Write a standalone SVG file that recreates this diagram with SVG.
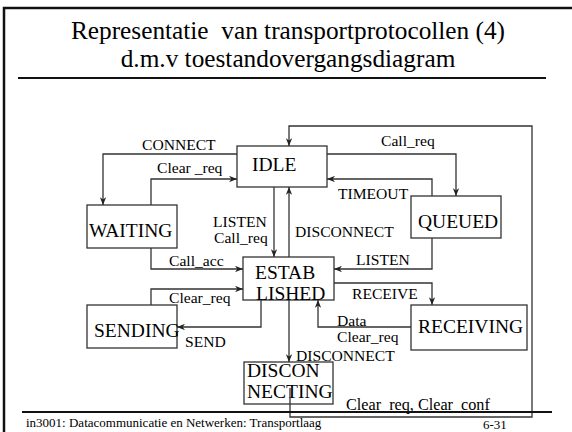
<svg xmlns="http://www.w3.org/2000/svg" width="572" height="432" viewBox="0 0 572 432">
  <style>
    .frame { fill: none; stroke: #111; stroke-width: 2.5; }
    .rule { stroke: #111; stroke-width: 2; }
    .box { fill: #fff; stroke: #333; stroke-width: 1.3; }
    .edge { fill: none; stroke: #333; stroke-width: 1.3; }
    .title { font-family: "Liberation Serif", "Times New Roman", serif; font-size: 25.3px; fill: #000; text-anchor: middle; white-space: pre; }
    .state { font-family: "Liberation Serif", "Times New Roman", serif; font-size: 19.5px; fill: #000; }
    .lbl { font-family: "Liberation Serif", "Times New Roman", serif; font-size: 15.6px; fill: #000; }
    .foot { font-family: "Liberation Serif", "Times New Roman", serif; font-size: 13px; fill: #000; }
  </style>
  <defs>
    <marker id="arrow" viewBox="0 0 10 8" markerWidth="8" markerHeight="6.4" refX="10" refY="4" orient="auto" markerUnits="userSpaceOnUse">
      <path d="M0,0 L10,4 L0,8 L3,4 z" fill="#222"/>
    </marker>
  </defs>

  <rect width="572" height="432" fill="#fff"/>

  <!-- slide frame and header -->
  <path class="frame" d="M4,432 V8 H572"/>
  <text class="title" x="288" y="39" xml:space="preserve">Representatie  van transportprotocollen (4)</text>
  <text class="title" x="288" y="67">d.m.v toestandovergangsdiagram</text>
  <line class="rule" x1="18" y1="78" x2="546" y2="78"/>

  <!-- transitions -->
  <g id="connectors">
    <path class="edge" d="M237,154 H103 V205" marker-end="url(#arrow)"/>
    <path class="edge" d="M151,205 V179 H237" marker-end="url(#arrow)"/>
    <path class="edge" d="M274,187 V257" marker-end="url(#arrow)"/>
    <path class="edge" d="M289,257 V187" marker-end="url(#arrow)"/>
    <path class="edge" d="M290,388 V417 H532 V126 H289 V146" marker-end="url(#arrow)"/>
    <path class="edge" d="M327,154 H456 V196" marker-end="url(#arrow)"/>
    <path class="edge" d="M432,196 V179 H327" marker-end="url(#arrow)"/>
    <path class="edge" d="M432,238 V269 H334" marker-end="url(#arrow)"/>
    <path class="edge" d="M334,283 H432 V305" marker-end="url(#arrow)"/>
    <path class="edge" d="M411,327 H318 V300" marker-end="url(#arrow)"/>
    <path class="edge" d="M289,300 V362" marker-end="url(#arrow)"/>
    <path class="edge" d="M151,248 V269 H243" marker-end="url(#arrow)"/>
    <path class="edge" d="M151,305 V289 H243" marker-end="url(#arrow)"/>
    <path class="edge" d="M261,300 V327 H177" marker-end="url(#arrow)"/>

    <text class="lbl" x="142" y="150">CONNECT</text>
    <text class="lbl" x="157" y="173">Clear _req</text>
    <text class="lbl" x="213" y="227">LISTEN</text>
    <text class="lbl" x="214" y="243">Call_req</text>
    <text class="lbl" x="295" y="237">DISCONNECT</text>
    <text class="lbl" x="381" y="146">Call_req</text>
    <text class="lbl" x="338" y="199">TIMEOUT</text>
    <text class="lbl" x="356" y="265">LISTEN</text>
    <text class="lbl" x="352" y="299">RECEIVE</text>
    <text class="lbl" x="337" y="326">Data</text>
    <text class="lbl" x="337" y="342">Clear_req</text>
    <text class="lbl" x="296" y="361">DISCONNECT</text>
    <text class="lbl" x="169" y="266">Call_acc</text>
    <text class="lbl" x="169" y="303">Clear_req</text>
    <text class="lbl" x="185" y="347">SEND</text>
    <text class="lbl" x="346" y="410" style="font-size:16.2px">Clear_req, Clear_conf</text>
  </g>

  <!-- states -->
  <g id="idle">
    <rect class="box" x="237" y="146" width="90" height="41"/>
    <text class="state" x="252" y="171">IDLE</text>
  </g>
  <g id="waiting">
    <rect class="box" x="87" y="205" width="90" height="43"/>
    <text class="state" x="89" y="237">WAITING</text>
  </g>
  <g id="queued">
    <rect class="box" x="411" y="196" width="90" height="42"/>
    <text class="state" x="418" y="228">QUEUED</text>
  </g>
  <g id="established">
    <rect class="box" x="243" y="257" width="91" height="43"/>
    <text class="state" x="255" y="279">ESTAB</text>
    <text class="state" x="256" y="300">LISHED</text>
  </g>
  <g id="sending">
    <rect class="box" x="87" y="305" width="90" height="43"/>
    <text class="state" x="94" y="337">SENDING</text>
  </g>
  <g id="receiving">
    <rect class="box" x="411" y="305" width="116" height="45"/>
    <text class="state" x="418" y="333">RECEIVING</text>
  </g>
  <g id="disconnecting">
    <rect class="box" x="244" y="362" width="89" height="42"/>
    <text class="state" x="247" y="377">DISCON</text>
    <text class="state" x="247" y="398">NECTING</text>
  </g>
  <!-- loop line re-drawn over the DISCONNECTING box -->
  <path class="edge" d="M290,388 V404"/>

  <!-- footer -->
  <line class="rule" x1="22" y1="412" x2="552" y2="412"/>
  <text class="foot" x="26" y="427">in3001: Datacommunicatie en Netwerken: Transportlaag</text>
  <text class="foot" x="483" y="429">6-31</text>
</svg>
